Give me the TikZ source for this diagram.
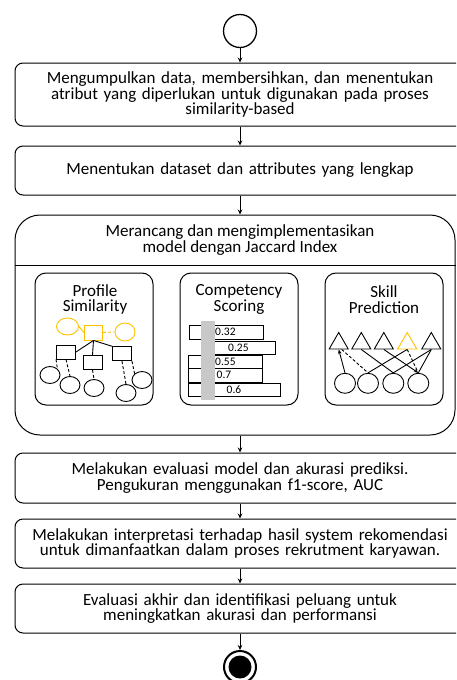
\documentclass[tikz,border=0pt]{standalone}
\usepackage{fontspec}
\setmainfont{Carlito}
\usetikzlibrary{arrows.meta,shapes.geometric}
\definecolor{simgold}{RGB}{255,192,0}
\definecolor{bargray}{RGB}{200,200,200}
\tikzset{
	stepbox/.style={draw,rounded corners=8pt,line width=1pt,text width=430pt,inner xsep=10pt,align=center,font=\fontsize{17}{15.5}\selectfont},
	flow/.style={line width=0.8pt,-{Stealth[length=5pt,width=4.5pt]}},
	subbox/.style={draw,rounded corners=11pt,line width=1pt,minimum width=118pt,minimum height=132pt},
	subtitle/.style={align=center,font=\fontsize{17}{15.5}\selectfont},
	sqbox/.style={draw,line width=0.9pt,minimum width=19pt,minimum height=14pt,inner sep=0pt},
	oval/.style={draw,ellipse,line width=0.9pt,minimum width=20pt,minimum height=17pt,inner sep=0pt},
	tri/.style={draw,regular polygon,regular polygon sides=3,line width=0.9pt,minimum size=22pt,inner sep=0pt},
	dash3/.style={dash pattern=on 3pt off 2pt}
}
\begin{document}
\begin{tikzpicture}[x=1pt,y=-1pt]
		%\draw[gray!50, thin, step=10] (0,0) grid (456,680);
		\useasboundingbox (0,0) rectangle (456,680);
		\clip (0,0) rectangle (456,680);
		\node[draw,circle,line width=1.3pt,minimum size=33pt] (start) at (240,31) {};
		\node[stepbox,minimum height=63pt] (b1) at (240,94.5) {Mengumpulkan data, membersihkan, dan menentukan\\atribut yang diperlukan untuk digunakan pada proses\\similarity-based};
		\node[stepbox,minimum height=49pt] (b2) at (240,170.5) {Menentukan dataset dan attributes yang lengkap};
		\node[draw,rounded corners=25pt,line width=1pt,minimum width=440pt,minimum height=220pt] (big) at (235,325) {};
		\draw[line width=1pt] ([yshift=-51pt]big.north west) -- ([yshift=-51pt]big.north east);
		\node[subtitle] (bigtitle) at (240,240) {Merancang dan mengimplementasikan\\model dengan Jaccard Index};
		\node[stepbox,minimum height=50pt] (b4) at (240,478) {Melakukan evaluasi model dan akurasi prediksi.\\Pengukuran menggunakan f1-score, AUC};
		\node[stepbox,minimum height=49pt] (b5) at (240,543.5) {Melakukan interpretasi terhadap hasil system rekomendasi\\untuk dimanfaatkan dalam proses rekrutment karyawan.};
		\node[stepbox,minimum height=49pt] (b6) at (240,608.5) {Evaluasi akhir dan identifikasi peluang untuk\\meningkatkan akurasi dan performansi};
		\node[draw,circle,line width=2pt,minimum size=32pt] (stop) at (240,667) {};
		\fill (stop.center) circle (11.5pt);
		
		\draw[flow] (start) -- (b1);
		\draw[flow] (b1) -- (b2);
		\draw[flow] (b2.south) -- (b2.south |- big.north);
		\draw[flow] (big.south -| b4.north) -- (b4.north);
		\draw[flow] (b4) -- (b5);
		\draw[flow] (b5) -- (b6);
		\draw[flow] (b6) -- (stop);
		
		% profile similarity
		\node[subbox] (prof) at (94,339) {};
		\node[subtitle] at (95,299.5) {Profile\\Similarity};
		\node[oval,simgold,minimum width=22pt] (pl) at (67.5,326.5) {};
		\node[sqbox,simgold,minimum width=18pt,minimum height=15pt] (pm) at (93.5,332.5) {};
		\node[oval,simgold,minimum height=18pt] (pr) at (125,332) {};
		\draw[simgold,line width=0.9pt] (pl.east) -- (pm.west);
		\draw[simgold,line width=0.9pt,dash3] (pm.east) -- (pr.west);
		\node[sqbox] (pa) at (66,352) {};
		\node[sqbox] (pb) at (92.5,362.5) {};
		\node[sqbox] (pc) at (122,353.7) {};
		\draw[line width=0.9pt] (pm.south) -- (pa.east);
		\draw[line width=0.9pt] (pm.south) -- (pb.north);
		\draw[line width=0.9pt] (pm.south) -- (pc.north west);
		\foreach \i/\x/\y in {1/50/375,2/70/385,3/94/388,4/126/393,5/142/380}
			\node[oval] (pc\i) at (\x,\y) {};
		\draw[line width=0.9pt,dash3] (pa.south west) -- (pc1.north east);
		\draw[line width=0.9pt,dash3] (pa.south) -- (pc2.north);
		\draw[line width=0.9pt,dash3] (pb.south) -- (pc3.north);
		\draw[line width=0.9pt,dash3] (pc.south) -- (pc4.north);
		\draw[line width=0.9pt,dash3] (pc.south east) -- (pc5.north west);
		
		% competency scoring
		\node[subbox] (comp) at (239,339) {};
		\node[subtitle] at (239,299.5) {Competency\\Scoring};
		\foreach \ya/\yb/\xa/\xb in {325/339/189/263,341/354.5/212/275,355/368.7/188/262.7,368.7/382/188/262.7,383/396.5/188/280.7}
			\draw[line width=0.9pt] (\xa,\ya) rectangle (\xb,\yb);
		\fill[bargray] (201,321) rectangle (215,400);
		\foreach \y/\x/\v in {332/215/0.32,347.8/228/0.25,361.8/215/0.55,375.3/216.5/0.7,389.8/226.5/0.6}
			\node[anchor=west,inner sep=0pt,font=\fontsize{11.5}{12}\selectfont] at (\x,\y) {\v};
		
		% skill prediction
		\node[subbox] (skill) at (384,339) {};
		\node[subtitle] at (384,299.5) {Skill\\Prediction};
		\foreach \i/\x in {1/338.7,2/361.3,3/383.8,5/431.3}
			\node[tri] (t\i) at (\x,343.5) {};
		\node[tri,simgold] (t4) at (407.2,343.5) {};
		\foreach \i/\x in {1/345,2/368,3/393.3,4/418.3}
			\node[oval,minimum width=21pt,minimum height=20pt] (s\i) at (\x,383.3) {};
		\draw[line width=0.9pt,-{Stealth[length=4.5pt,width=3.5pt]}] (s1.north) -- (t1.south);
		\draw[line width=0.9pt,dash3] ([xshift=3pt]t1.south) -- (s2.north);
		\draw[line width=0.9pt] (t2.south) -- (s3.north);
		\draw[line width=0.9pt] (s2.north) -- (t4.south);
		\draw[line width=0.9pt,-{Stealth[length=4.5pt,width=3.5pt]}] (t3.south) -- (s4.north);
		\draw[line width=0.9pt,dash3] (t4.south) -- (s4.north);
		\draw[line width=0.9pt] (s3.north) -- (t5.south);
		\draw[line width=0.9pt] (s4.north) -- (t5.south);
\end{tikzpicture}
\end{document}
